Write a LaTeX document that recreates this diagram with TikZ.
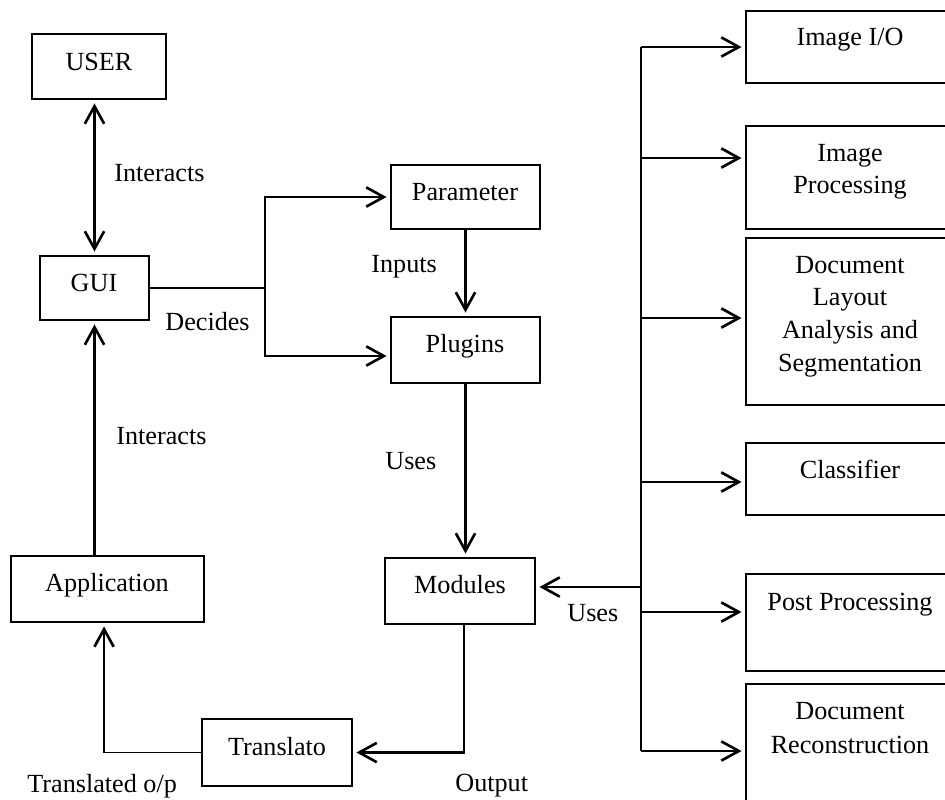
\documentclass[tikz,border=0pt]{standalone}
\usepackage{fontspec}
\setmainfont{Liberation Serif}
\usetikzlibrary{arrows.meta}
\begin{document}
\begin{tikzpicture}[x=0.02cm,y=-0.02cm,
  every node/.style={font=\fontsize{14.9}{17}\selectfont, inner sep=0pt},
  box/.style={draw, line width=1.1pt, rectangle},
  txt/.style={anchor=base},
  lbl/.style={anchor=base west},
  link/.style={line width=1.5pt},
  thinlink/.style={line width=0.8pt},
  arr/.style={line width=1.5pt, -{Straight Barb[length=10pt,width=11pt,line width=1.5pt]}, shorten >=2pt},
  dblarr/.style={line width=1.5pt, {Straight Barb[length=10pt,width=11pt,line width=1.5pt]}-{Straight Barb[length=10pt,width=11pt,line width=1.5pt]}, shorten >=2pt, shorten <=2pt}]
\useasboundingbox (0,0) rectangle (945,799);

% boxes
\node[box, minimum width=2.68cm, minimum height=1.30cm] (user) at (99,66.5) {};
\node[box, minimum width=2.18cm, minimum height=1.28cm] (gui) at (94.5,288) {};
\node[box, minimum width=2.98cm, minimum height=1.28cm] (param) at (465.5,197) {};
\node[box, minimum width=2.98cm, minimum height=1.32cm] (plugins) at (465.5,350) {};
\node[box, minimum width=3.86cm, minimum height=1.32cm] (app) at (107.5,589) {};
\node[box, minimum width=3.00cm, minimum height=1.32cm] (modules) at (460,591) {};
\node[box, minimum width=3.00cm, minimum height=1.34cm] (trans) at (277,752.5) {};
\node[box, minimum width=4.16cm, minimum height=1.44cm] (imgio) at (850,47) {};
\node[box, minimum width=4.16cm, minimum height=2.06cm] (imgproc) at (850,177.5) {};
\node[box, minimum width=4.16cm, minimum height=3.34cm] (dla) at (850,321.5) {};
\node[box, minimum width=4.16cm, minimum height=1.44cm] (classif) at (850,479) {};
\node[box, minimum width=4.16cm, minimum height=1.94cm] (post) at (850,622.5) {};
\node[box, minimum width=4.16cm, minimum height=2.92cm] (recon) at (850,757) {};

% box texts
\node[txt] (user-t) at (99,70) {USER};
\node[txt] (gui-t) at (94,291) {GUI};
\node[txt] (param-t) at (465,200) {Parameter};
\node[txt] (plugins-t) at (465,352) {Plugins};
\node[txt] (app-t) at (107,591) {Application};
\node[txt] (modules-t) at (460,593) {Modules};
\node[txt] (trans-t) at (277,755) {Translato};
\node[txt] (imgio-t) at (850,45) {Image I/O};
\node[txt] (imgproc-t1) at (850,161) {Image};
\node[txt] (imgproc-t2) at (850,193) {Processing};
\node[txt] (dla-t1) at (850,273) {Document};
\node[txt] (dla-t2) at (850,305) {Layout};
\node[txt] (dla-t3) at (850,338) {Analysis and};
\node[txt] (dla-t4) at (850,371) {Segmentation};
\node[txt] (classif-t) at (850,478) {Classifier};
\node[txt] (post-t) at (850,610) {Post Processing};
\node[txt] (recon-t1) at (850,719) {Document};
\node[txt] (recon-t2) at (850,753) {Reconstruction};

% connector labels
\node[lbl] (l-int1) at (114,181) {Interacts};
\node[lbl] (l-dec) at (165,330) {Decides};
\node[lbl] (l-int2) at (116,444) {Interacts};
\node[lbl] (l-inp) at (371,272) {Inputs};
\node[lbl] (l-uses1) at (385,469) {Uses};
\node[lbl] (l-uses2) at (567,621) {Uses};
\node[lbl] (l-trop) at (27,792) {Translated o/p};
\node[lbl] (l-out) at (455,791) {Output};

% USER <-> GUI
\draw[dblarr] (gui.north |- user.south) -- (gui.north);

% GUI fork to Parameter and Plugins
\coordinate (fork) at (265,288);
\draw[link] (gui.east) -- (fork);
\draw[arr] (fork) |- (param.west);
\draw[arr] (fork) |- ([yshift=-0.12cm]plugins.west);

% Parameter -> Plugins -> Modules
\draw[arr] (param.south) -- (plugins.north);
\draw[arr] (plugins.south) -- (plugins.south |- modules.north);

% Modules -> Translator -> Application -> GUI
\draw[arr] ([xshift=0.08cm]modules.south) |- (trans.east);
\draw[thinlink] (trans.west) -- ++(-97,0) coordinate (tcorner);
\draw[arr] (tcorner) -- (tcorner |- app.south);
\draw[arr] (gui.south |- app.north) -- (gui.south);

% module bus on the right
\coordinate (b1) at (641,47);
\coordinate (b2) at (641,158);
\coordinate (b3) at (641,318);
\coordinate (b4) at (641,482);
\coordinate (bm) at (641,587);
\coordinate (b5) at (641,612);
\coordinate (b6) at (641,751);
\draw[link] (b1) -- (bm);
\draw[thinlink] (bm) -- (b6);
\draw[arr] (bm) -- (bm -| modules.east);
\draw[arr] (b1) -- (b1 -| imgio.west);
\draw[arr] (b2) -- (b2 -| imgproc.west);
\draw[arr] (b3) -- (b3 -| dla.west);
\draw[arr] (b4) -- (b4 -| classif.west);
\draw[arr] (b5) -- (b5 -| post.west);
\draw[arr] (b6) -- (b6 -| recon.west);
\end{tikzpicture}
\end{document}
